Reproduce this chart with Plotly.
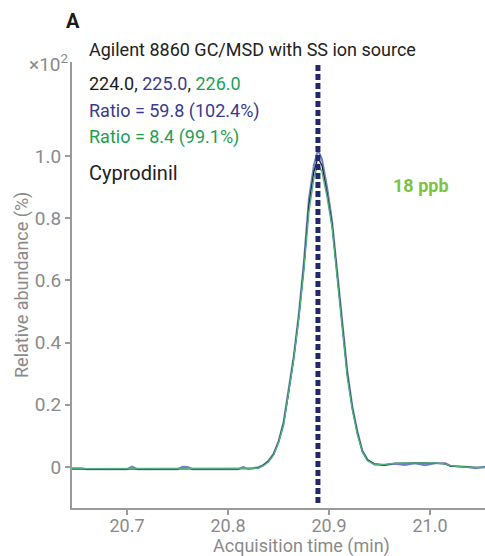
import plotly.graph_objects as go

# Acquisition time (min)
time_min = [20.645, 20.655, 20.660, 20.665, 20.700, 20.705, 20.710, 20.750, 20.755, 20.760,
            20.765, 20.810, 20.815, 20.820, 20.825, 20.830, 20.835, 20.840, 20.845, 20.850,
            20.855, 20.860, 20.865, 20.870, 20.875, 20.880, 20.885, 20.889, 20.893, 20.898,
            20.903, 20.908, 20.913, 20.918, 20.923, 20.928, 20.933, 20.938, 20.945, 20.955,
            20.965, 20.975, 20.985, 20.995, 21.005, 21.015, 21.020, 21.025, 21.035, 21.045,
            21.055]

# Relative abundance (x10^2 %) for ions 224.0, 225.0, 226.0
ion_224 = [-0.007, -0.007, -0.007, -0.007, -0.007, -0.007, -0.007, -0.007, -0.007, -0.007,
           -0.007, -0.007, -0.007, -0.006, -0.005, -0.003, 0.006, 0.018, 0.040, 0.080,
           0.140, 0.240, 0.350, 0.480, 0.640, 0.840, 0.950, 0.995, 0.970, 0.880,
           0.780, 0.620, 0.450, 0.300, 0.190, 0.110, 0.050, 0.022, 0.010, 0.006,
           0.012, 0.013, 0.013, 0.013, 0.012, 0.010, 0.003, 0.002, 0.002, -0.001,
           -0.001]
ion_225 = [-0.004, -0.004, -0.007, -0.007, -0.007, 0.001, -0.007, -0.007, 0.001, 0.000,
           -0.007, -0.007, 0.000, -0.006, -0.003, -0.001, 0.006, 0.020, 0.042, 0.082,
           0.145, 0.245, 0.355, 0.490, 0.655, 0.860, 0.970, 1.020, 0.990, 0.900,
           0.790, 0.630, 0.460, 0.310, 0.195, 0.115, 0.052, 0.024, 0.008, 0.006,
           0.010, 0.006, 0.012, 0.006, 0.012, 0.012, 0.004, 0.002, 0.001, -0.004,
           0.000]
ion_226 = [-0.006, -0.006, -0.006, -0.006, -0.006, -0.006, -0.006, -0.006, -0.006, -0.006,
           -0.006, -0.006, -0.006, -0.006, -0.006, -0.004, 0.004, 0.016, 0.038, 0.078,
           0.135, 0.235, 0.345, 0.475, 0.630, 0.820, 0.930, 0.975, 0.950, 0.870,
           0.770, 0.610, 0.440, 0.290, 0.185, 0.105, 0.048, 0.020, 0.008, 0.008,
           0.012, 0.013, 0.013, 0.013, 0.013, 0.010, 0.004, 0.002, 0.000, -0.002,
           -0.002]

retention_time = 20.889
x_ticks = [20.7, 20.8, 20.9, 21.0]
x_tick_labels = ["20.7", "20.8", "20.9", "21.0"]
y_ticks = [0, 0.2, 0.4, 0.6, 0.8, 1.0]
y_tick_labels = ["0", "0.2", "0.4", "0.6", "0.8", "1.0"]

FONT = "Roboto, Arial, sans-serif"
GREY = "#8a8a8a"
BLACK_C = "#1a1a1a"
BLUE_C = "#6f7fc6"
GREEN_C = "#4fb07d"
BLUE_TXT = "#3a3a8c"
GREEN_TXT = "#1e9e52"

fig = go.Figure()
fig.add_trace(go.Scatter(x=time_min, y=ion_225, mode="lines",
                         line=dict(color=BLUE_C, width=2), showlegend=False))
fig.add_trace(go.Scatter(x=time_min, y=ion_224, mode="lines",
                         line=dict(color=BLACK_C, width=1.2), showlegend=False))
fig.add_trace(go.Scatter(x=time_min, y=ion_226, mode="lines",
                         line=dict(color=GREEN_C, width=1.5), showlegend=False))
fig.add_trace(go.Scatter(x=[retention_time, retention_time], y=[-0.116, 1.303], mode="lines",
                         line=dict(color="#22296b", width=5, dash="6px,3px"), showlegend=False))

fig.update_layout(
    width=485, height=556,
    margin=dict(l=72, r=0, t=62, b=48),
    paper_bgcolor="white", plot_bgcolor="white",
    font=dict(family=FONT, size=18, color=GREY),
    xaxis=dict(range=[20.6455, 21.0544], tickmode="array", tickvals=x_ticks, ticktext=x_tick_labels,
               showline=True, linecolor="#9a9a9a", linewidth=2, ticks="outside", ticklen=5,
               tickcolor="#9a9a9a", tickwidth=1.5, showgrid=False, zeroline=False,
               ticklabelstandoff=-5,
               tickfont=dict(size=18, color=GREY)),
    yaxis=dict(range=[-0.132, 1.303], tickmode="array", tickvals=y_ticks, ticktext=y_tick_labels,
               showline=True, linecolor="#9a9a9a", linewidth=2, ticks="outside", ticklen=5,
               tickcolor="#9a9a9a", tickwidth=1.5, showgrid=False, zeroline=False,
               tickfont=dict(size=19, color=GREY)),
)

def px_x(p):
    return (p - 72) / 413

def px_y(p):
    return (508 - p) / 446

annos = [
    dict(text="<b>A</b>", x=px_x(64), y=px_y(21), xanchor="left", font=dict(size=20, color=BLACK_C)),
    dict(text="Agilent 8860 GC/MSD with SS ion source", x=px_x(87), y=px_y(49), xanchor="left",
         font=dict(size=18, color="#222222")),
    dict(text="×10<sup>2</sup>", x=px_x(70), y=px_y(63), xanchor="right", font=dict(size=19, color=GREY)),
    dict(text=f"<span style='color:{BLACK_C}'>224.0</span><span style='color:{BLACK_C}'>, </span>"
              f"<span style='color:{BLUE_TXT}'>225.0</span><span style='color:{BLACK_C}'>, </span>"
              f"<span style='color:{GREEN_TXT}'>226.0</span>",
         x=px_x(87), y=px_y(83), xanchor="left", font=dict(size=18)),
    dict(text="Ratio = 59.8 (102.4%)", x=px_x(87), y=px_y(111), xanchor="left",
         font=dict(size=18, color=BLUE_TXT)),
    dict(text="Ratio = 8.4 (99.1%)", x=px_x(87), y=px_y(137), xanchor="left",
         font=dict(size=18, color=GREEN_TXT)),
    dict(text="Cyprodinil", x=px_x(87), y=px_y(173), xanchor="left", font=dict(size=20, color="#222222")),
    dict(text="<b>18 ppb</b>", x=px_x(391), y=px_y(185), xanchor="left", font=dict(size=18, color="#7dc242")),
    dict(text="Acquisition time (min)", x=px_x(301), y=px_y(546), xanchor="center",
         font=dict(size=18, color=GREY)),
    dict(text="Relative abundance (%)", x=px_x(22), y=px_y(285), xanchor="center", textangle=-90,
         font=dict(size=18, color=GREY)),
]
for a in annos:
    fig.add_annotation(xref="paper", yref="paper", showarrow=False, yanchor="middle", **a)

fig.write_html("out.html", config={"displayModeBar": False},
               post_script="document.body.style.margin='0';document.body.style.overflow='hidden';")
